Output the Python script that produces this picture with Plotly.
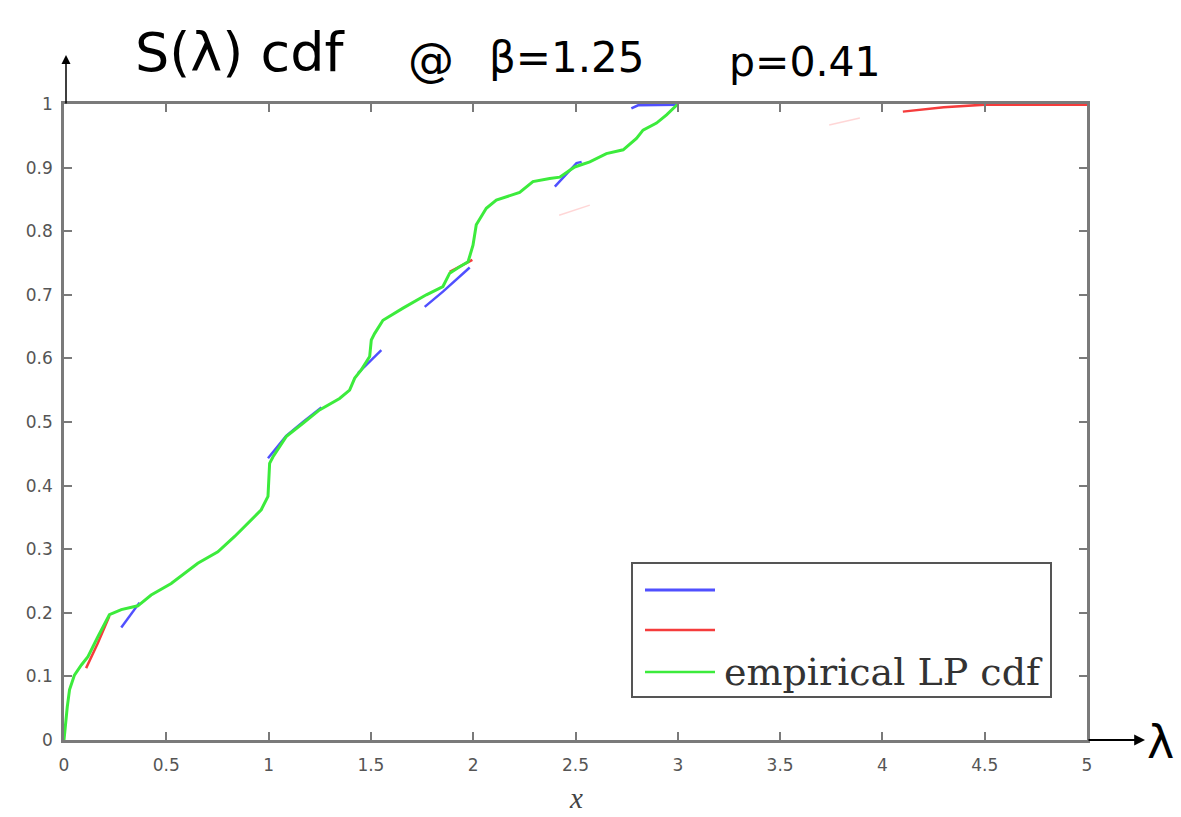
import plotly.graph_objects as go

# ---- data ----
green_x = [0, 0.005, 0.016, 0.027, 0.051, 0.085, 0.117, 0.165, 0.222, 0.28, 0.361, 0.426,
           0.524, 0.654, 0.752, 0.834, 0.915, 0.964, 0.997, 1.005, 1.021, 1.086, 1.168,
           1.249, 1.347, 1.396, 1.421, 1.453, 1.494, 1.502, 1.518, 1.559, 1.657, 1.771,
           1.852, 1.885, 1.934, 1.975, 1.999, 2.015, 2.064, 2.113, 2.227, 2.292, 2.374,
           2.423, 2.496, 2.570, 2.651, 2.733, 2.798, 2.830, 2.896, 2.945, 2.994, 3.0]
green_y = [0, 0.02, 0.052, 0.079, 0.102, 0.118, 0.131, 0.162, 0.197, 0.205, 0.211, 0.228,
           0.246, 0.278, 0.296, 0.320, 0.346, 0.362, 0.383, 0.435, 0.445, 0.477, 0.498,
           0.519, 0.537, 0.550, 0.569, 0.582, 0.603, 0.629, 0.639, 0.660, 0.679, 0.700,
           0.713, 0.734, 0.744, 0.752, 0.778, 0.810, 0.836, 0.849, 0.861, 0.878, 0.883,
           0.885, 0.901, 0.909, 0.922, 0.928, 0.946, 0.959, 0.970, 0.983, 0.998, 1.0]

# visible fragments of the (partly erased) blue and red curves
blue_x = [0.280, 0.369, None, 0.997, 1.086, 1.168, 1.258, None, 1.437, 1.551, None,
          1.763, 1.852, 1.983, None, 2.399, 2.505, 2.530, None, 2.773, 2.806, 3.0]
blue_y = [0.177, 0.216, None, 0.443, 0.478, 0.500, 0.523, None, 0.577, 0.613, None,
          0.681, 0.705, 0.743, None, 0.870, 0.907, 0.909, None, 0.993, 0.998, 0.999]
red_x = [0.108, 0.165, 0.222, None, 1.885, 1.996, None, 4.10, 4.30, 4.50, 5.0]
red_y = [0.113, 0.152, 0.195, None, 0.736, 0.755, None, 0.988, 0.995, 0.999, 0.999]
red_faint_x = [2.42, 2.57, None, 3.74, 3.89]
red_faint_y = [0.825, 0.841, None, 0.967, 0.978]

x_ticks = [0, 0.5, 1, 1.5, 2, 2.5, 3, 3.5, 4, 4.5, 5]
x_ticktext = ["0", "0.5", "1", "1.5", "2", "2.5", "3", "3.5", "4", "4.5", "5"]
y_ticks = [0, 0.1, 0.2, 0.3, 0.4, 0.5, 0.6, 0.7, 0.8, 0.9, 1]
y_ticktext = ["0", "0.1", "0.2", "0.3", "0.4", "0.5", "0.6", "0.7", "0.8", "0.9", "1"]

legend_label = "empirical LP cdf"

BLUE = "rgb(80,80,255)"
RED = "rgb(245,60,60)"
GREEN = "rgb(60,235,60)"

fig = go.Figure()
fig.add_trace(go.Scatter(x=red_faint_x, y=red_faint_y, mode="lines",
                         line=dict(color="rgba(255,90,90,0.25)", width=1.5),
                         showlegend=False, hoverinfo="skip"))
fig.add_trace(go.Scatter(x=blue_x, y=blue_y, mode="lines",
                         line=dict(color=BLUE, width=2.5), showlegend=False))
fig.add_trace(go.Scatter(x=red_x, y=red_y, mode="lines",
                         line=dict(color=RED, width=2.5), showlegend=False))
fig.add_trace(go.Scatter(x=green_x, y=green_y, mode="lines",
                         line=dict(color=GREEN, width=3), showlegend=False))

axis_common = dict(showline=True, linecolor="#7a7a7a", linewidth=2.5, mirror="ticks",
                   ticks="inside", ticklen=8, tickwidth=2, tickcolor="#7a7a7a",
                   showgrid=False, zeroline=False,
                   tickfont=dict(family="DejaVu Sans", size=17, color="#555"))

fig.update_xaxes(range=[0, 5], tickvals=x_ticks, ticktext=x_ticktext,
                 ticklabelstandoff=8, **axis_common)
fig.update_yaxes(range=[0, 1], tickvals=y_ticks, ticktext=y_ticktext,
                 ticklabelstandoff=5, **axis_common)

W, H = 1181, 817
L, R, T, B = 64, 94, 104, 77
pw, ph = W - L - R, H - T - B


def px(x):
    return (x - L) / pw


def py(y):
    return (H - B - y) / ph


def note(xp, yp, text, size, family="DejaVu Sans", color="black", xanchor="center"):
    return dict(x=px(xp), y=py(yp), xref="paper", yref="paper", text=text,
                showarrow=False, xanchor=xanchor, yanchor="middle",
                font=dict(family=family, size=size, color=color))


annotations = [
    note(240, 52, "S(λ) cdf", 54),
    note(431, 60, "@", 46),
    note(567, 58, "β=1.25", 42),
    note(805, 62, "p=0.41", 41),
    # y-axis arrow
    dict(x=px(66), y=py(55), xref="paper", yref="paper", text="", showarrow=True,
         ax=0, ay=50, arrowhead=2, arrowsize=1.2, arrowwidth=1.5, arrowcolor="black",
         standoff=0),
    # x-axis arrow
    dict(x=px(1145), y=py(740), xref="paper", yref="paper", text="", showarrow=True,
         ax=-58, ay=0, arrowhead=2, arrowsize=1.2, arrowwidth=1.8, arrowcolor="black",
         standoff=0),
    note(1160, 742, "λ", 46),
    # x-axis label
    note(576, 798, "<i>x</i>", 29, family="Liberation Serif", color="#444"),
    # legend text
    note(722, 672, legend_label, 38, family="DejaVu Serif", color="#333",
         xanchor="left"),
]

shapes = [
    dict(type="rect", xref="paper", yref="paper", x0=px(632), x1=px(1051),
         y0=py(697), y1=py(563), line=dict(color="#555", width=2),
         fillcolor="white", layer="above"),
    dict(type="line", xref="paper", yref="paper", x0=px(645), x1=px(715),
         y0=py(590), y1=py(590), line=dict(color=BLUE, width=3)),
    dict(type="line", xref="paper", yref="paper", x0=px(645), x1=px(715),
         y0=py(630), y1=py(630), line=dict(color=RED, width=2.5)),
    dict(type="line", xref="paper", yref="paper", x0=px(645), x1=px(715),
         y0=py(672), y1=py(672), line=dict(color=GREEN, width=2.5)),
]

fig.update_layout(width=W, height=H, margin=dict(l=L, r=R, t=T, b=B),
                  plot_bgcolor="white", paper_bgcolor="white",
                  annotations=annotations, shapes=shapes, showlegend=False)

fig.write_html("out.html")
